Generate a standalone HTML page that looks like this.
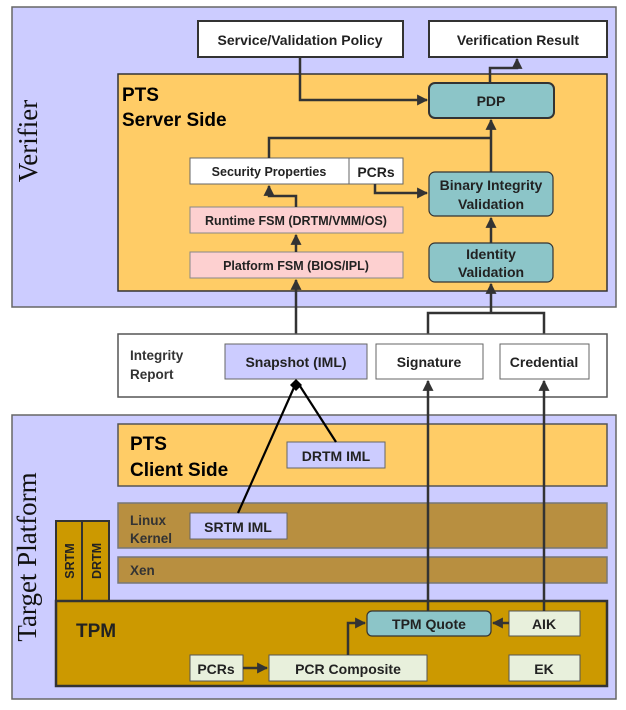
<!DOCTYPE html>
<html><head><meta charset="utf-8"><style>
html,body{margin:0;padding:0;background:#fff;}
svg{display:block;}
text{font-family:"Liberation Sans",Arial,sans-serif;fill:#222;}
.b{font-weight:bold;}
</style></head><body>
<svg width="626" height="710" viewBox="0 0 626 710" xmlns="http://www.w3.org/2000/svg">
<defs>
<marker id="a" viewBox="0 0 10 10" refX="9" refY="5" markerWidth="5" markerHeight="5" orient="auto-start-reverse" markerUnits="userSpaceOnUse">
<path d="M0,0 L10,5 L0,10 z" fill="#333"/></marker>
<marker id="ar" viewBox="0 0 10 10" refX="9" refY="5" markerWidth="11" markerHeight="11" orient="auto" markerUnits="userSpaceOnUse">
<path d="M0,0 L10,5 L0,10 z" fill="#333"/></marker>
</defs>
<!-- Verifier -->
<rect x="12" y="7" width="604" height="300" fill="#ccccff" stroke="#666" stroke-width="1.5"/>
<text x="0" y="0" transform="translate(37,141) rotate(-90)" text-anchor="middle" style="font-family:'Liberation Serif',serif;font-size:27px;fill:#111">Verifier</text>
<rect x="198" y="21" width="205" height="36" fill="#fff" stroke="#333" stroke-width="2"/>
<text x="300" y="45" text-anchor="middle" class="b" font-size="14">Service/Validation Policy</text>
<rect x="429" y="21" width="178" height="36" fill="#fff" stroke="#333" stroke-width="2"/>
<text x="518" y="45" text-anchor="middle" class="b" font-size="14">Verification Result</text>
<rect x="118" y="74" width="489" height="217" fill="#ffcc66" stroke="#333" stroke-width="1.5"/>
<text x="122" y="101" class="b" font-size="19" style="fill:#000">PTS</text>
<text x="122" y="126" class="b" font-size="19" style="fill:#000">Server Side</text>
<rect x="429" y="83" width="125" height="35" rx="6" fill="#8cc5c8" stroke="#333" stroke-width="2"/>
<text x="491" y="106" text-anchor="middle" class="b" font-size="14">PDP</text>
<rect x="190" y="158" width="159" height="26" fill="#fff" stroke="#666" stroke-width="1"/>
<text x="269" y="176" text-anchor="middle" class="b" font-size="12.5">Security Properties</text>
<rect x="349" y="158" width="54" height="26" fill="#fff" stroke="#666" stroke-width="1"/>
<text x="376" y="177" text-anchor="middle" class="b" font-size="14">PCRs</text>
<rect x="190" y="207" width="213" height="26" fill="#fdd0d0" stroke="#888" stroke-width="1"/>
<text x="296" y="225" text-anchor="middle" class="b" font-size="12.5">Runtime FSM (DRTM/VMM/OS)</text>
<rect x="190" y="252" width="213" height="26" fill="#fdd0d0" stroke="#888" stroke-width="1"/>
<text x="296" y="270" text-anchor="middle" class="b" font-size="12.5">Platform FSM (BIOS/IPL)</text>
<rect x="429" y="172" width="124" height="44" rx="6" fill="#8cc5c8" stroke="#333" stroke-width="1.2"/>
<text x="491" y="190" text-anchor="middle" class="b" font-size="14">Binary Integrity</text>
<text x="491" y="209" text-anchor="middle" class="b" font-size="14">Validation</text>
<rect x="429" y="243" width="124" height="39" rx="6" fill="#8cc5c8" stroke="#333" stroke-width="1.2"/>
<text x="491" y="259" text-anchor="middle" class="b" font-size="14">Identity</text>
<text x="491" y="277" text-anchor="middle" class="b" font-size="14">Validation</text>
<g fill="none" stroke="#333" stroke-width="2.5">
<path d="M300,57 V100 H427" marker-end="url(#ar)"/>
<path d="M490,83 V68 H517 V59" marker-end="url(#ar)"/>
<path d="M269,158 V138 H491"/>
<path d="M491,172 V120" marker-end="url(#ar)"/>
<path d="M375,184 V193 H427" marker-end="url(#ar)"/>
<path d="M296,207 V196 H269 V186" marker-end="url(#ar)"/>
<path d="M296,252 V235" marker-end="url(#ar)"/>
<path d="M491,243 V218" marker-end="url(#ar)"/>
<path d="M296,344 V280" marker-end="url(#ar)"/>
<path d="M428,344 V313 H544 V344 M491,313 V284" marker-end="url(#ar)"/>
</g>
<!-- Integrity report -->
<rect x="118" y="334" width="489" height="63" fill="#fff" stroke="#555" stroke-width="1.5"/>
<text x="130" y="360" font-size="13.5" class="b" style="fill:#333">Integrity</text>
<text x="130" y="379" font-size="13.5" class="b" style="fill:#333">Report</text>
<rect x="225" y="344" width="142" height="35" fill="#ccccff" stroke="#666" stroke-width="1"/>
<text x="296" y="367" text-anchor="middle" class="b" font-size="14">Snapshot (IML)</text>
<rect x="376" y="344" width="107" height="35" fill="#fff" stroke="#666" stroke-width="1"/>
<text x="429" y="367" text-anchor="middle" class="b" font-size="14">Signature</text>
<rect x="500" y="344" width="89" height="35" fill="#fff" stroke="#666" stroke-width="1"/>
<text x="544" y="367" text-anchor="middle" class="b" font-size="14">Credential</text>
<!-- Target platform -->
<rect x="12" y="415" width="604" height="284" fill="#ccccff" stroke="#666" stroke-width="1.5"/>
<text x="0" y="0" transform="translate(36,557) rotate(-90)" text-anchor="middle" style="font-family:'Liberation Serif',serif;font-size:27px;fill:#111">Target Platform</text>
<rect x="118" y="424" width="489" height="62" fill="#ffcc66" stroke="#555" stroke-width="1.5"/>
<text x="130" y="450" class="b" font-size="19" style="fill:#000">PTS</text>
<text x="130" y="476" class="b" font-size="19" style="fill:#000">Client Side</text>
<rect x="287" y="442" width="98" height="26" fill="#ccccff" stroke="#666" stroke-width="1"/>
<text x="336" y="461" text-anchor="middle" class="b" font-size="14">DRTM IML</text>
<rect x="118" y="503" width="489" height="45" fill="#b88f40" stroke="#777" stroke-width="1.5"/>
<text x="130" y="525" class="b" font-size="13.5" style="fill:#333">Linux</text>
<text x="130" y="543" class="b" font-size="13.5" style="fill:#333">Kernel</text>
<rect x="190" y="513" width="97" height="26" fill="#ccccff" stroke="#666" stroke-width="1"/>
<text x="238" y="532" text-anchor="middle" class="b" font-size="14">SRTM  IML</text>
<rect x="118" y="557" width="489" height="26" fill="#b88f40" stroke="#777" stroke-width="1.5"/>
<text x="130" y="575" class="b" font-size="13.5" style="fill:#333">Xen</text>
<rect x="56" y="521" width="26" height="80" fill="#cc9900" stroke="#333" stroke-width="2"/>
<rect x="82" y="521" width="27" height="80" fill="#cc9900" stroke="#333" stroke-width="2"/>
<text transform="translate(74,561) rotate(-90)" text-anchor="middle" class="b" font-size="12.5">SRTM</text>
<text transform="translate(101,561) rotate(-90)" text-anchor="middle" class="b" font-size="12.5">DRTM</text>
<rect x="56" y="601" width="551" height="85" fill="#cc9900" stroke="#333" stroke-width="2.5"/>
<text x="76" y="637" class="b" font-size="19" style="fill:#222">TPM</text>
<rect x="367" y="611" width="124" height="25" rx="5" fill="#8cc5c8" stroke="#333" stroke-width="1.2"/>
<text x="429" y="629" text-anchor="middle" class="b" font-size="14">TPM Quote</text>
<rect x="509" y="611" width="71" height="25" fill="#e8f0dc" stroke="#555" stroke-width="1"/>
<text x="544" y="629" text-anchor="middle" class="b" font-size="14">AIK</text>
<rect x="190" y="655" width="53" height="26" fill="#e8f0dc" stroke="#555" stroke-width="1"/>
<text x="216" y="674" text-anchor="middle" class="b" font-size="14">PCRs</text>
<rect x="269" y="655" width="158" height="26" fill="#e8f0dc" stroke="#555" stroke-width="1"/>
<text x="348" y="674" text-anchor="middle" class="b" font-size="14">PCR Composite</text>
<rect x="509" y="655" width="71" height="26" fill="#e8f0dc" stroke="#555" stroke-width="1"/>
<text x="544" y="674" text-anchor="middle" class="b" font-size="14">EK</text>
<g fill="none" stroke="#333" stroke-width="2.5">
<path d="M428,611 V381" marker-end="url(#ar)"/>
<path d="M544,611 V381" marker-end="url(#ar)"/>
<path d="M509,623 H493" marker-end="url(#ar)"/>
<path d="M243,668 H267" marker-end="url(#ar)"/>
<path d="M348,655 V623 H365" marker-end="url(#ar)"/>
</g>
<g stroke="#000" stroke-width="2.2" fill="none">
<path d="M238,513 L296,383"/>
<path d="M336,442 L298,383"/>
</g>
<path d="M296,379 L302,385 L296,391 L290,385 z" fill="#000"/>
</svg>
</body></html>
